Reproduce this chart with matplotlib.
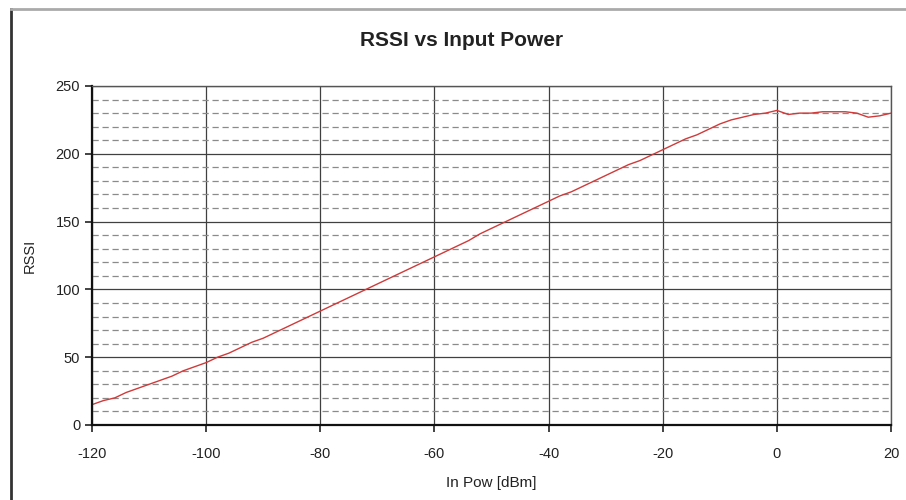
import matplotlib
matplotlib.use('Agg')
import matplotlib.pyplot as plt
from matplotlib.lines import Line2D

in_pow = [-120, -118, -116, -114, -112, -110, -108, -106, -104, -102,
          -100, -98, -96, -94, -92, -90, -88, -86, -84, -82,
          -80, -78, -76, -74, -72, -70, -68, -66, -64, -62,
          -60, -58, -56, -54, -52, -50, -48, -46, -44, -42,
          -40, -38, -36, -34, -32, -30, -28, -26, -24, -22,
          -20, -18, -16, -14, -12, -10, -8, -6, -4, -2,
          0, 2, 4, 6, 8, 10, 12, 14, 16, 18, 20]
rssi = [15, 18, 20, 24, 27, 30, 33, 36, 40, 43,
        46, 50, 53, 57, 61, 64, 68, 72, 76, 80,
        84, 88, 92, 96, 100, 104, 108, 112, 116, 120,
        124, 128, 132, 136, 141, 145, 149, 153, 157, 161,
        165, 169, 172, 176, 180, 184, 188, 192, 195, 199,
        203, 207, 211, 214, 218, 222, 225, 227, 229, 230,
        232, 229, 230, 230, 231, 231, 231, 230, 227, 228, 230]

plt.rcParams['font.family'] = ['Liberation Sans', 'DejaVu Sans']
plt.rcParams['axes.unicode_minus'] = False

fig = plt.figure(figsize=(9.06, 5.0), dpi=100)
ax = fig.add_axes([0.1015, 0.15, 0.882, 0.678])

ax.plot(in_pow, rssi, color='#d03a3a', lw=1.0)

ax.set_xlim(-120, 20)
ax.set_ylim(0, 250)
ax.set_xticks(range(-120, 21, 20))
ax.set_yticks(range(0, 251, 50))
ax.set_yticks(range(0, 251, 10), minor=True)

ax.grid(which='major', color='#404040', lw=0.9, ls='-')
ax.grid(which='minor', axis='y', color='#8a8a8a', lw=0.9, ls=(0, (5, 3)))
ax.set_axisbelow(True)

ax.tick_params(which='major', direction='out', length=5, width=1.2, labelsize=10.5, colors='#222222')
ax.tick_params(axis='x', pad=11)
ax.tick_params(which='minor', length=0)

for s in ['left', 'bottom']:
    ax.spines[s].set_linewidth(1.6)
    ax.spines[s].set_color('#111111')
for s in ['top', 'right']:
    ax.spines[s].set_linewidth(1.0)
    ax.spines[s].set_color('#555555')

fig.text(0.509, 0.92, 'RSSI vs Input Power', fontsize=15, fontweight='bold',
         color='#222222', ha='center', va='center')
ax.set_xlabel('In Pow [dBm]', fontsize=11, color='#222222')
ax.xaxis.set_label_coords(0.5, -0.171)
ax.xaxis.label.set_va('center')
ax.set_ylabel('RSSI', fontsize=10.5, color='#222222')
ax.yaxis.set_label_coords(-0.0776, 0.5)
ax.yaxis.label.set_va('center')

# chart frame: dark left edge, light top edge
fig.add_artist(Line2D([0.0125, 0.0125], [0.0, 0.983], transform=fig.transFigure,
                      color='#333333', lw=2.0))
fig.add_artist(Line2D([0.0125, 1.0], [0.983, 0.983], transform=fig.transFigure,
                      color='#aaaaaa', lw=2.0))

fig.savefig('out.png', dpi=100)
